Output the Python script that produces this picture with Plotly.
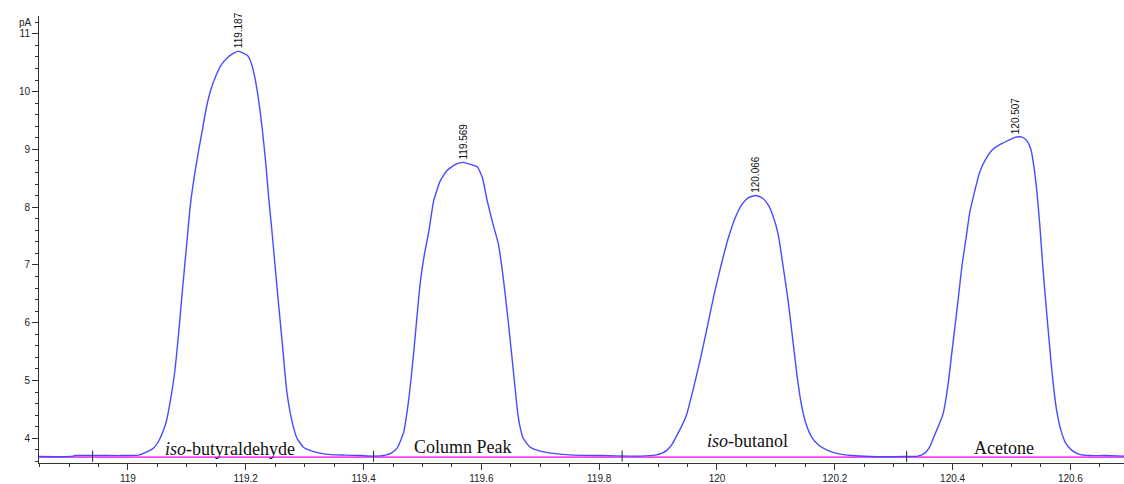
import plotly.graph_objects as go

# ---- data (retention time in min, signal in pA) ----
base_start_rt = [118.849, 118.903, 118.911, 118.988, 119.018]
base_start_pa = [3.684, 3.684, 3.701, 3.701, 3.709]

peak1_rt = [119.033, 119.044, 119.052, 119.059, 119.066, 119.072, 119.079, 119.086,
            119.093, 119.100, 119.106, 119.113, 119.120, 119.127, 119.133, 119.140,
            119.149, 119.159, 119.171, 119.181, 119.187,
            119.203, 119.211, 119.219, 119.228, 119.234, 119.239, 119.245, 119.253,
            119.262, 119.270, 119.279, 119.287, 119.298, 119.310, 119.322, 119.344,
            119.369]
peak1_pa = [3.769, 3.838, 3.949, 4.103, 4.326, 4.651, 5.113, 5.814,
            6.619, 7.389, 8.039, 8.553, 8.981, 9.374, 9.716, 10.007,
            10.264, 10.469, 10.606, 10.675, 10.701,
            10.623, 10.440, 10.042, 9.357, 8.758, 8.159, 7.526, 6.619,
            5.643, 4.788, 4.274, 4.000, 3.846, 3.786, 3.752, 3.718,
            3.709]

peak2_rt = [119.395, 119.417, 119.437, 119.447, 119.457, 119.468, 119.476, 119.485,
            119.491, 119.496, 119.503, 119.511, 119.519, 119.530, 119.542, 119.556,
            119.569, 119.581, 119.593, 119.602, 119.610, 119.620, 119.629, 119.637,
            119.646, 119.654, 119.663, 119.671, 119.683, 119.700, 119.722, 119.756,
            119.802, 119.853]
peak2_pa = [3.701, 3.692, 3.709, 3.744, 3.829, 4.103, 4.616, 5.472,
            6.140, 6.670, 7.166, 7.594, 8.108, 8.450, 8.638, 8.741,
            8.775, 8.741, 8.698, 8.501, 8.108, 7.697, 7.355, 6.790,
            5.986, 5.198, 4.343, 4.000, 3.846, 3.778, 3.739, 3.709,
            3.701, 3.692]

peak3_rt = [119.870, 119.895, 119.907, 119.915, 119.924, 119.931, 119.939, 119.948,
            119.959, 119.971, 119.983, 119.995, 120.007, 120.019, 120.031, 120.043,
            120.054, 120.066, 120.077, 120.087, 120.095, 120.104, 120.112, 120.121,
            120.129, 120.136, 120.143, 120.151, 120.161, 120.173, 120.187, 120.205,
            120.229, 120.260, 120.319]
peak3_pa = [3.692, 3.709, 3.744, 3.795, 3.898, 4.035, 4.189, 4.394,
            4.822, 5.335, 5.900, 6.482, 6.995, 7.457, 7.817, 8.056,
            8.168, 8.202, 8.159, 8.039, 7.851, 7.526, 6.995, 6.362,
            5.678, 5.079, 4.599, 4.257, 4.017, 3.881, 3.795, 3.735,
            3.701, 3.684, 3.684]

peak4_rt = [120.341, 120.353, 120.361, 120.368, 120.375, 120.384, 120.392, 120.400,
            120.409, 120.416, 120.423, 120.429, 120.438, 120.446, 120.456, 120.468,
            120.480, 120.494, 120.507, 120.518, 120.526, 120.533, 120.538, 120.543,
            120.548, 120.553, 120.560, 120.567, 120.572, 120.577, 120.584, 120.592,
            120.602, 120.614, 120.633, 120.658, 120.691]
peak4_pa = [3.692, 3.744, 3.846, 4.017, 4.189, 4.428, 4.907, 5.592,
            6.362, 6.995, 7.474, 7.902, 8.296, 8.604, 8.826, 8.998,
            9.083, 9.152, 9.212, 9.212, 9.152, 8.998, 8.707, 8.279,
            7.697, 6.995, 6.140, 5.335, 4.839, 4.462, 4.137, 3.915,
            3.795, 3.727, 3.701, 3.701, 3.692]

baseline_rt = [118.849, 120.691]
baseline_pa = [3.675, 3.675]

marker_rt = [118.940, 119.417, 119.839, 120.322]
marker_pa = [3.690, 3.690, 3.692, 3.684]

apex_rt = [119.187, 119.569, 120.066, 120.507]
apex_pa = [10.701, 8.775, 8.202, 9.212]

compound_names = ["<i>iso</i>-butyraldehyde", "Column Peak", "<i>iso</i>-butanol", "Acetone"]
compound_rt = [119.174, 119.569, 120.051, 120.487]
compound_pa = [3.813, 3.847, 3.950, 3.830]

x_range = [118.849, 120.691]
y_range = [3.5725, 11.308]

# ---- figure ----
signal_rt = base_start_rt + peak1_rt + peak2_rt + peak3_rt + peak4_rt
signal_pa = base_start_pa + peak1_pa + peak2_pa + peak3_pa + peak4_pa

fig = go.Figure()
fig.add_trace(go.Scatter(x=baseline_rt, y=baseline_pa, mode="lines",
                         line=dict(color="#ff44ff", width=1.6), hoverinfo="skip"))
fig.add_trace(go.Scatter(x=signal_rt, y=signal_pa, mode="lines",
                         line=dict(color="#4a4aff", width=1.4, shape="spline", smoothing=0.5)))
fig.add_trace(go.Scatter(x=marker_rt, y=marker_pa, mode="markers",
                         marker=dict(symbol="line-ns", size=8,
                                     line=dict(color="#222222", width=1))))

for rt, pa in zip(apex_rt, apex_pa):
    fig.add_annotation(x=rt, y=pa, text=f"{rt:.3f}", textangle=-90, showarrow=False,
                       xanchor="center", yanchor="bottom", yshift=1,
                       font=dict(family="Liberation Sans, Arial", size=10, color="#111111"))

for name, rt, pa in zip(compound_names, compound_rt, compound_pa):
    fig.add_annotation(x=rt, y=pa, text=name, showarrow=False,
                       xanchor="center", yanchor="middle",
                       font=dict(family="Liberation Serif, Times New Roman", size=18, color="#111111"))

fig.add_annotation(xref="paper", x=0, y=11.2, text="pA", showarrow=False,
                   xanchor="right", yanchor="middle", xshift=-5,
                   font=dict(family="Liberation Sans, Arial", size=10, color="#222222"))

axis_font = dict(family="Liberation Sans, Arial", size=10, color="#222222")
fig.update_layout(
    width=1124, height=484,
    margin=dict(l=39, r=0, t=16, b=16),
    paper_bgcolor="white", plot_bgcolor="white",
    showlegend=False,
    xaxis=dict(range=x_range, tick0=119, dtick=0.2, ticks="outside", ticklen=6,
               tickcolor="#333333", tickfont=axis_font, showgrid=False, zeroline=False,
               showline=True, linecolor="#333333", linewidth=1,
               minor=dict(tick0=119, dtick=0.05, ticks="outside", ticklen=3,
                          tickcolor="#333333", showgrid=False)),
    yaxis=dict(range=y_range, tick0=4, dtick=1, ticks="outside", ticklen=6,
               tickcolor="#333333", tickfont=axis_font, showgrid=False, zeroline=False,
               showline=True, linecolor="#333333", linewidth=1,
               minor=dict(tick0=4, dtick=0.2, ticks="outside", ticklen=3,
                          tickcolor="#333333", showgrid=False)),
)

fig.write_html("out.html")
